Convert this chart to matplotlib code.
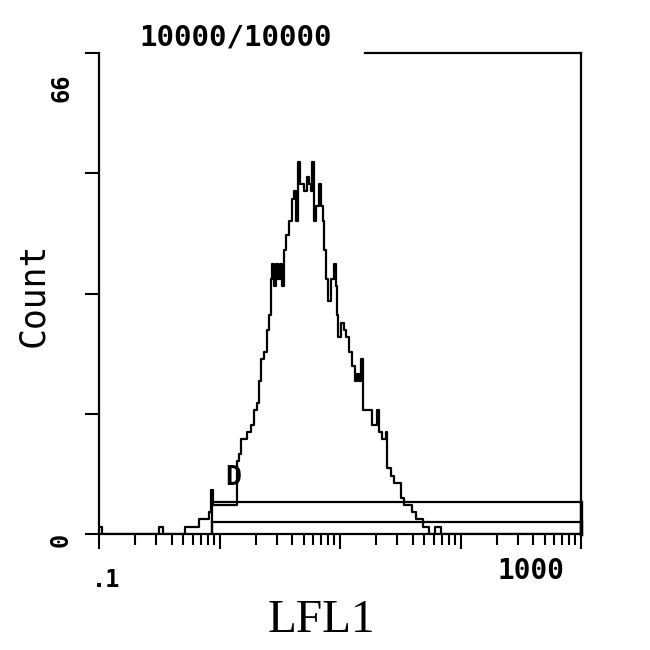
import matplotlib
matplotlib.use("Agg")
import matplotlib.pyplot as plt
from matplotlib.ticker import LogLocator, NullFormatter, FixedLocator

# ---- data ----
lfl1 = [0.1, 0.105, 0.315, 0.34, 0.518, 0.60, 0.676, 0.72, 0.818, 0.857,
        0.875, 0.97, 1.049, 1.111, 1.177, 1.245, 1.318, 1.397, 1.45, 1.508,
        1.597, 1.691, 1.825, 1.933, 2.047, 2.127, 2.209, 2.34, 2.477, 2.573,
        2.673, 2.727, 2.833, 2.943, 3.057, 3.176, 3.30, 3.428, 3.561, 3.773,
        3.996, 4.152, 4.313, 4.48, 4.654, 4.835, 5.023, 5.321, 5.528, 5.742,
        5.853, 6.08, 6.317, 6.692, 6.952, 7.222, 7.361, 7.647, 7.944, 8.415,
        8.914, 9.261, 9.439, 9.619, 10.19, 10.8, 11.21, 11.88, 12.58, 13.33,
        13.84, 14.38, 14.94, 15.52, 16.44, 17.41, 18.45, 19.54, 20.3, 21.09,
        22.34, 23.67, 24.1, 24.56, 26.51, 28.08, 29.74, 32.1, 34.0, 35.32,
        39.63, 42.77, 45.3, 48.9, 51.8, 54.86, 61.44, 63.8, 68.9, 1000]
counts = [1, 0, 1, 0, 1, 1, 2, 2, 3, 6,
          4, 4, 4, 4, 4, 4, 4, 10, 11, 13,
          13, 14, 15, 17, 18, 21, 24, 25, 28, 30,
          35, 37, 34, 37, 35, 37, 34, 39, 41, 43,
          46, 47, 43, 51, 48, 48, 47, 49, 48, 47,
          51, 43, 45, 48, 45, 43, 39, 35, 32, 35,
          37, 34, 30, 27, 29, 28, 27, 25, 23, 21,
          22, 21, 24, 17, 17, 17, 15, 15, 17, 14,
          13, 13, 14, 9, 8, 7, 7, 5, 4, 4,
          3, 2, 2, 1, 1, 0, 1, 1, 0, 0]

gate_start = [0.87, 0.87]
gate_end = [1000, 1000]
gate_height = [4.4, 1.6]
gate_label = "D"
gate_label_pos = (1.30, 7.7)

x_min, x_max = 0.1, 1000
y_max = 66
y_ticks = [0, 16.5, 33, 49.5, 66]
title = "10000/10000"
x_label = "LFL1"
y_label = "Count"
x_tick_labels = [".1", "1000"]
y_tick_labels = ["0", "66"]

# ---- figure ----
fig = plt.figure(figsize=(6.5, 6.5), dpi=100)
ax = fig.add_axes([99 / 650, 1 - 534 / 650, 482 / 650, 481 / 650])

ax.plot(lfl1, counts, drawstyle="steps-post", color="black", lw=1.6)

for gs, ge, gh in zip(gate_start, gate_end, gate_height):
    ax.plot([gs, ge], [gh, gh], color="black", lw=1.6, clip_on=False)
    ax.plot([gs, gs], [0, gh], color="black", lw=1.6)
    ax.plot([ge, ge], [0, gh], color="black", lw=2.4, clip_on=False)
ax.text(gate_label_pos[0], gate_label_pos[1], gate_label, ha="center", va="center",
        fontsize=19, family="DejaVu Sans Mono", weight="bold", color="black")

ax.set_xscale("log")
ax.set_xlim(x_min, x_max)
ax.set_ylim(0, y_max)

ax.xaxis.set_major_locator(LogLocator(base=10))
ax.xaxis.set_minor_locator(LogLocator(base=10, subs=range(2, 10)))
ax.xaxis.set_major_formatter(NullFormatter())
ax.xaxis.set_minor_formatter(NullFormatter())
ax.yaxis.set_major_locator(FixedLocator(y_ticks))
ax.set_yticklabels([])

ax.tick_params(axis="x", which="major", direction="out", length=11, width=1.5)
ax.tick_params(axis="x", which="minor", direction="out", length=8, width=1.5)
ax.tick_params(axis="y", which="major", direction="out", length=10, width=1.5)

for side in ["left", "bottom", "right"]:
    ax.spines[side].set_linewidth(1.6)
ax.spines["top"].set_visible(False)
ax.plot([0.552, 1.0], [1.0, 1.0], transform=ax.transAxes, color="black",
        lw=1.6, clip_on=False)

mono = "DejaVu Sans Mono"
fig.text(236 / 650, 1 - 38 / 650, title, ha="center", va="center",
         fontsize=21, family=mono, weight="bold")
fig.text(33 / 650, 1 - 295 / 650, y_label, ha="center", va="center",
         fontsize=25, family=mono, rotation=90)
fig.text(62 / 650, 1 - 88 / 650, y_tick_labels[1], ha="center", va="center",
         fontsize=17, family=mono, weight="bold", rotation=90)
fig.text(61 / 650, 1 - 540 / 650, y_tick_labels[0], ha="center", va="center",
         fontsize=17, family=mono, weight="bold", rotation=90)
fig.text(106 / 650, 1 - 580 / 650, x_tick_labels[0], ha="center", va="center",
         fontsize=17, family=mono, weight="bold")
fig.text(531 / 650, 1 - 571 / 650, x_tick_labels[1], ha="center", va="center",
         fontsize=20, family=mono, weight="bold")
fig.text(321 / 650, 1 - 621 / 650, x_label, ha="center", va="center",
         fontsize=34, family="Liberation Serif")

fig.savefig("out.png", dpi=100, facecolor="white")
